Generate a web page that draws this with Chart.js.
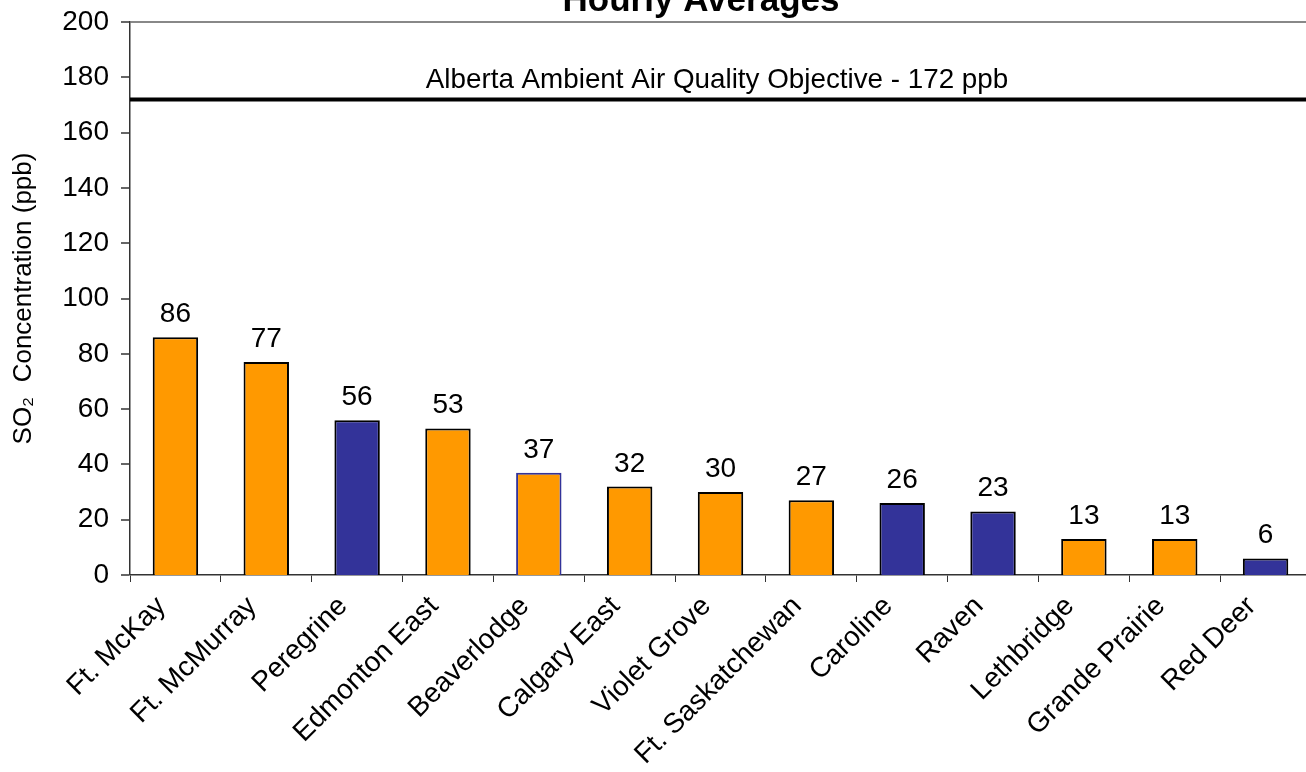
<!DOCTYPE html>
<html>
<head>
<meta charset="utf-8">
<script src="https://cdn.jsdelivr.net/npm/chart.js@4/dist/chart.umd.min.js"></script>
<style>
  html, body { margin: 0; padding: 0; background: #fff; overflow: hidden; }
  #wrap { width: 1311px; height: 772px; position: relative; }
</style>
</head>
<body>
<div id="wrap"><canvas id="c" width="1311" height="772"></canvas></div>
<script>
const stations = ["Ft. McKay", "Ft. McMurray", "Peregrine", "Edmonton East", "Beaverlodge", "Calgary East", "Violet Grove", "Ft. Saskatchewan", "Caroline", "Raven", "Lethbridge", "Grande Prairie", "Red Deer"];
const so2Values = [86, 77, 56, 53, 37, 32, 30, 27, 26, 23, 13, 13, 6];
const stationGroup = ["A", "A", "B", "A", "A", "A", "A", "A", "B", "B", "A", "A", "B"];
const borderGroup = ["A", "A", "A", "A", "B", "A", "A", "A", "A", "A", "A", "A", "A"];
const yTicks = [0, 20, 40, 60, 80, 100, 120, 140, 160, 180, 200];
const objectiveValue = 172;
const objectiveLabel = "Alberta Ambient Air Quality Objective - 172 ppb";
const chartTitle = "Hourly Averages";
const yTitle = "SO\u2082  Concentration (ppb)";

const ORANGE = "#FF9900", NAVY = "#333399";
const FONT = "'Liberation Sans', Arial, sans-serif";

const overlay = {
  id: "overlay",
  afterDatasetsDraw(chart) {
    const ctx = chart.ctx;
    const area = chart.chartArea;
    const y = chart.scales.y;
    const ly = y.getPixelForValue(objectiveValue);
    ctx.save();
    ctx.strokeStyle = "#000";
    ctx.lineWidth = 4;
    ctx.beginPath();
    ctx.moveTo(area.left, ly);
    ctx.lineTo(area.right, ly);
    ctx.stroke();
    ctx.fillStyle = "#000";
    ctx.font = "27.8px " + FONT;
    ctx.textAlign = "center";
    ctx.textBaseline = "alphabetic";
    ctx.fillText(objectiveLabel, 717, ly - 11);
    const meta = chart.getDatasetMeta(0);
    ctx.font = "28px " + FONT;
    meta.data.forEach((bar, i) => {
      ctx.fillText(String(so2Values[i]), bar.x, bar.y - 15);
    });
    ctx.font = "bold 35px " + FONT;
    ctx.fillText(chartTitle, 701, 11);
    ctx.restore();
  }
};

new Chart(document.getElementById("c"), {
  type: "bar",
  data: {
    labels: stations,
    datasets: [{
      data: so2Values,
      backgroundColor: stationGroup.map(g => g === "A" ? ORANGE : NAVY),
      borderColor: borderGroup.map(g => g === "A" ? "#000" : NAVY),
      borderWidth: 2,
      barPercentage: 0.5,
      categoryPercentage: 1.0
    }]
  },
  plugins: [overlay],
  options: {
    responsive: false,
    animation: false,
    events: [],
    layout: { padding: { top: 22, left: 0, right: 0, bottom: 0 } },
    plugins: { legend: { display: false }, tooltip: { enabled: false }, title: { display: false } },
    scales: {
      x: {
        offset: true,
        grid: { display: true, offset: true, drawOnChartArea: false, tickLength: 7, color: "#333", tickColor: "#333" },
        border: { display: true, color: "#333", width: 1.5 },
        ticks: { color: "#000", font: { size: 28, family: FONT }, minRotation: 45, maxRotation: 45, autoSkip: false, padding: 8, labelOffset: -14 },
        afterFit(s) { s.height = 197; s.paddingLeft = 0; s.paddingRight = 0; }
      },
      y: {
        min: 0, max: 200,
        afterBuildTicks(s) { s.ticks = yTicks.map(v => ({ value: v })); },
        grid: {
          drawOnChartArea: true, tickLength: 9,
          color: ctx => (ctx.tick && ctx.tick.value === 200) ? "#888" : "rgba(0,0,0,0)",
          lineWidth: ctx => (ctx.tick && ctx.tick.value === 200) ? 2 : 0,
          tickColor: "#333", tickWidth: 1.5
        },
        border: { display: true, color: "#333", width: 1.5 },
        ticks: { color: "#000", font: { size: 28, family: FONT }, padding: 12 },
        title: { display: true, text: yTitle, color: "#000", font: { size: 26, family: FONT }, padding: { top: 8, bottom: 0 } },
        afterFit(s) { s.width = 130; s.paddingTop = 0; s.paddingBottom = 0; }
      }
    }
  }
});
</script>
</body>
</html>
